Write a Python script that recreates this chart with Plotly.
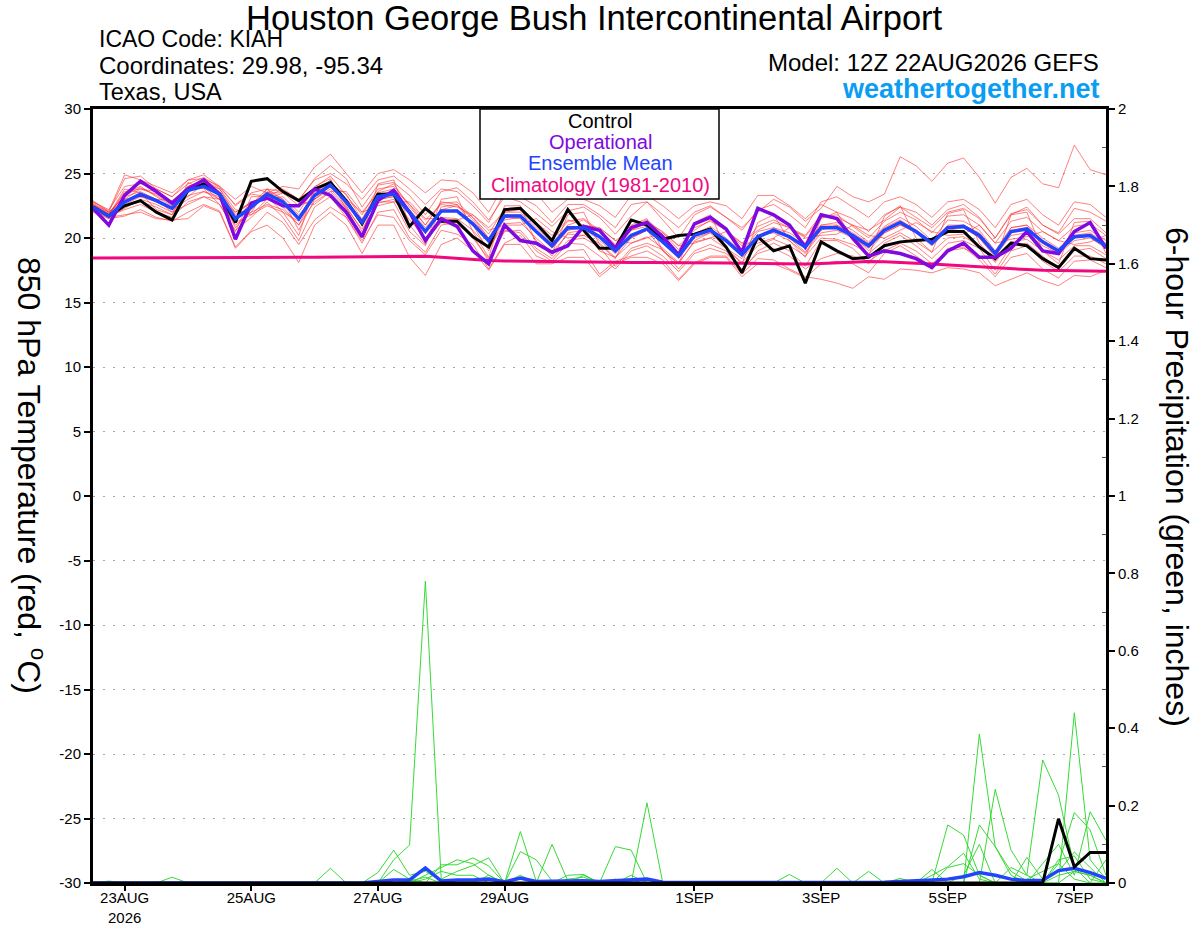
import plotly.graph_objects as go
import pandas as pd

# ---------------- data ----------------
times = pd.date_range("2026-08-22 12:00", periods=65, freq="6h")

tick_dates = ["2026-08-23", "2026-08-25", "2026-08-27", "2026-08-29",
              "2026-09-01", "2026-09-03", "2026-09-05", "2026-09-07"]
tick_labels = ["23AUG<br>2026", "25AUG", "27AUG", "29AUG", "1SEP", "3SEP", "5SEP", "7SEP"]

temp_ticks = [-30, -25, -20, -15, -10, -5, 0, 5, 10, 15, 20, 25, 30]
temp_tick_labels = ["-30", "-25", "-20", "-15", "-10", "-5", "0", "5", "10", "15", "20", "25", "30"]
precip_ticks = [0, 0.2, 0.4, 0.6, 0.8, 1.0, 1.2, 1.4, 1.6, 1.8, 2.0]
precip_tick_labels = ["0", "0.2", "0.4", "0.6", "0.8", "1", "1.2", "1.4", "1.6", "1.8", "2"]

control_t = [22.4, 21.7, 22.5, 22.9, 22.0, 21.4, 23.7, 24.2, 23.4, 21.2, 24.4, 24.6, 23.6,
             22.9, 23.8, 24.3, 22.9, 21.1, 23.4, 23.4, 20.9, 22.3, 21.3, 21.3, 20.1, 19.3,
             22.2, 22.3, 21.1, 19.8, 22.2, 20.6, 19.2, 19.2, 21.4, 21.0, 19.9, 20.2, 20.3,
             20.7, 19.3, 17.3, 20.1, 19.0, 19.4, 16.5, 19.7, 19.0, 18.4, 18.5, 19.4, 19.7,
             19.8, 19.9, 20.5, 20.5, 19.3, 18.4, 19.6, 19.4, 18.4, 17.7, 19.2, 18.4, 18.3]

oper_t = [22.3, 21.0, 23.3, 24.4, 23.6, 22.7, 23.8, 24.5, 23.4, 19.9, 22.7, 23.1, 22.5,
          22.5, 23.8, 23.3, 22.0, 20.1, 22.9, 23.7, 22.0, 19.8, 21.5, 20.9, 19.0, 18.0,
          21.0, 19.8, 19.6, 18.9, 19.4, 20.9, 20.6, 19.2, 20.8, 21.2, 20.1, 18.7, 21.1,
          21.6, 20.7, 18.9, 22.3, 21.8, 21.0, 19.3, 21.8, 21.5, 20.0, 18.6, 19.0, 18.8,
          18.4, 17.7, 19.0, 19.6, 18.5, 18.5, 19.2, 20.5, 19.0, 18.8, 20.5, 21.2, 19.2]

mean_t = [22.4, 21.7, 22.8, 23.4, 22.9, 22.3, 23.7, 24.0, 23.4, 21.5, 22.4, 23.4, 22.8,
          21.5, 23.3, 24.1, 22.8, 21.2, 23.2, 23.4, 22.0, 20.5, 22.1, 22.1, 21.1, 19.8,
          21.7, 21.7, 20.5, 19.4, 20.8, 20.8, 20.1, 19.0, 20.2, 20.7, 19.7, 18.6, 20.2,
          20.6, 19.8, 18.7, 20.1, 20.6, 20.1, 19.3, 20.8, 20.8, 20.2, 19.4, 20.6, 21.2,
          20.5, 19.6, 20.8, 20.9, 20.2, 18.8, 20.5, 20.7, 19.7, 19.0, 20.1, 20.2, 19.4]

clim_t = [18.45, 18.45, 18.45, 18.46, 18.46, 18.47, 18.47, 18.48, 18.48, 18.48, 18.49, 18.49, 18.50,
          18.50, 18.51, 18.52, 18.53, 18.55, 18.57, 18.60, 18.62, 18.58, 18.50, 18.40, 18.30, 18.25,
          18.22, 18.20, 18.18, 18.16, 18.15, 18.14, 18.13, 18.12, 18.11, 18.10, 18.10, 18.10, 18.10,
          18.08, 18.06, 18.04, 18.02, 18.00, 17.98, 17.98, 18.02, 18.08, 18.14, 18.18, 18.16, 18.12,
          18.05, 17.98, 17.90, 17.82, 17.74, 17.66, 17.60, 17.55, 17.50, 17.47, 17.45, 17.43, 17.42]

member_t01 = [22.9, 22.0, 24.6, 24.8, 23.8, 23.2, 24.2, 24.7, 23.9, 22.6, 23.5, 23.8, 23.6,
              22.9, 24.6, 25.6, 24.6, 22.4, 24.1, 24.3, 23.3, 21.8, 23.6, 23.9, 22.8, 21.4,
              23.2, 22.8, 21.9, 20.9, 22.1, 22.4, 21.6, 20.3, 21.7, 22.8, 21.4, 20.0, 21.8,
              22.4, 21.6, 20.8, 22.0, 23.0, 22.4, 21.3, 22.3, 24.0, 23.2, 22.8, 23.4, 26.3,
              25.6, 24.4, 25.8, 26.2, 24.7, 22.7, 24.7, 25.4, 24.2, 23.9, 27.2, 25.3, 24.9]
member_t02 = [22.0, 21.5, 21.7, 22.2, 21.6, 21.3, 22.0, 22.6, 22.1, 19.3, 20.6, 22.0, 21.2,
              19.5, 21.4, 22.4, 21.6, 19.8, 21.8, 21.6, 19.8, 18.7, 20.6, 20.3, 19.5, 17.6,
              19.6, 20.2, 18.6, 18.1, 19.0, 19.1, 17.2, 18.2, 18.6, 19.0, 18.3, 16.8, 18.1,
              18.6, 18.6, 17.2, 18.4, 18.3, 17.6, 17.0, 16.8, 16.5, 16.1, 17.0, 16.8, 17.6,
              17.5, 17.3, 17.7, 17.6, 17.3, 16.3, 16.8, 17.3, 16.7, 16.3, 17.1, 17.0, 17.5]
member_t03 = [22.8, 22.1, 24.9, 24.5, 24.0, 23.5, 24.5, 24.9, 24.0, 23.0, 24.0, 23.5, 24.0,
              23.8, 25.5, 26.5, 25.0, 23.5, 25.0, 25.3, 24.5, 23.5, 24.5, 24.4, 23.5, 22.0,
              24.2, 23.5, 23.5, 22.0, 23.0, 23.0, 22.5, 21.6, 23.3, 23.3, 22.5, 21.5, 22.5,
              22.8, 22.5, 21.5, 23.3, 23.3, 22.5, 21.5, 22.6, 22.0, 21.5, 20.5, 21.8, 22.4,
              21.6, 20.8, 22.0, 22.3, 21.5, 20.0, 21.9, 22.2, 21.0, 20.3, 21.5, 21.5, 20.4]
member_t04 = [22.1, 21.6, 21.8, 22.0, 21.5, 21.4, 21.5, 22.5, 22.0, 19.2, 20.5, 21.0, 20.0,
              18.1, 21.0, 22.0, 21.0, 18.8, 21.0, 21.0, 18.5, 17.1, 19.5, 20.0, 19.0, 17.5,
              19.5, 19.5, 18.0, 18.0, 18.5, 18.5, 17.0, 18.0, 18.5, 18.5, 18.0, 16.7, 18.0,
              18.5, 18.5, 17.0, 18.0, 18.0, 17.5, 16.9, 18.0, 18.2, 18.0, 17.3, 18.8, 19.4,
              18.6, 17.8, 19.2, 19.3, 18.3, 17.0, 18.5, 18.8, 17.6, 16.9, 18.2, 18.3, 17.7]
member_t05 = [22.6, 21.9, 23.3, 23.9, 23.3, 22.6, 24.0, 24.4, 23.6, 22.0, 22.8, 23.0, 23.2,
              22.0, 23.9, 24.8, 23.3, 21.8, 23.8, 24.0, 22.6, 21.0, 22.7, 22.8, 21.6, 20.3,
              22.3, 22.2, 21.2, 19.8, 21.3, 21.5, 20.6, 19.5, 20.9, 21.4, 20.4, 19.1, 20.8,
              21.3, 20.6, 19.4, 20.9, 21.4, 20.8, 20.1, 21.6, 21.8, 20.9, 20.0, 21.3, 22.0,
              21.4, 20.4, 21.7, 21.8, 21.0, 19.6, 21.3, 21.6, 20.5, 19.8, 20.9, 21.1, 20.2]
member_t06 = [22.3, 21.6, 22.3, 23.0, 22.6, 22.0, 23.3, 23.6, 23.0, 21.0, 22.0, 23.8, 22.4,
              21.0, 22.8, 23.6, 22.3, 20.7, 22.7, 23.0, 21.4, 20.0, 21.6, 21.5, 20.6, 19.2,
              21.1, 21.2, 20.0, 18.9, 20.3, 20.2, 19.6, 18.5, 19.6, 20.1, 19.2, 18.1, 19.7,
              20.0, 19.2, 18.1, 19.4, 19.9, 19.4, 18.6, 20.0, 19.9, 19.5, 18.8, 19.8, 20.4,
              19.7, 18.9, 20.0, 20.1, 19.4, 18.1, 19.7, 19.9, 19.0, 18.3, 19.4, 19.4, 18.7]
member_t07 = [22.5, 21.8, 23.8, 23.5, 22.2, 21.8, 24.3, 23.8, 22.6, 20.5, 23.2, 23.2, 22.0,
              20.2, 24.0, 24.6, 22.2, 20.2, 24.2, 24.5, 21.0, 19.5, 23.0, 23.2, 20.5, 18.5,
              22.5, 22.5, 19.6, 18.8, 21.8, 22.0, 19.5, 18.4, 21.0, 21.5, 19.0, 18.0, 21.2,
              21.8, 19.2, 18.0, 21.2, 21.8, 19.8, 18.5, 21.5, 22.0, 19.8, 18.6, 21.7, 22.5,
              20.0, 18.9, 21.9, 22.2, 19.6, 18.2, 21.8, 22.0, 19.0, 18.0, 21.2, 21.3, 18.8]
member_t08 = [22.7, 22.0, 23.0, 23.8, 23.6, 22.8, 23.2, 24.2, 23.8, 22.2, 21.8, 23.0, 23.5,
              22.8, 22.6, 23.6, 23.6, 22.0, 22.5, 22.8, 22.8, 21.5, 21.5, 21.4, 21.8, 20.6,
              21.0, 21.0, 21.5, 20.5, 20.0, 20.2, 20.8, 19.8, 19.6, 20.0, 20.4, 19.4, 19.6,
              20.0, 20.5, 19.6, 19.6, 20.0, 20.8, 20.0, 20.2, 20.3, 21.0, 20.2, 20.0, 20.6,
              21.2, 20.5, 20.2, 20.3, 21.0, 19.6, 19.9, 20.1, 20.5, 19.8, 19.5, 19.7, 20.2]
member_t09 = [22.2, 21.5, 22.5, 22.8, 22.4, 21.8, 23.5, 24.3, 23.5, 21.2, 21.8, 22.5, 22.0,
              21.3, 23.5, 24.5, 22.5, 20.5, 23.0, 23.2, 21.8, 19.8, 21.2, 21.0, 20.2, 18.2,
              20.5, 20.6, 19.2, 18.4, 19.8, 20.0, 19.3, 17.8, 19.2, 19.6, 19.1, 17.6, 19.0,
              19.5, 19.0, 17.4, 19.0, 19.6, 19.0, 17.8, 19.8, 19.8, 19.2, 18.0, 19.6, 20.2,
              19.4, 18.4, 19.6, 19.8, 19.2, 17.5, 19.4, 19.6, 18.6, 17.6, 19.0, 19.2, 18.4]
member_t10 = [22.5, 21.9, 23.0, 23.2, 23.0, 22.9, 23.9, 23.9, 23.0, 22.0, 22.7, 23.5, 23.5,
              22.5, 23.0, 24.0, 23.0, 22.0, 23.5, 23.8, 22.6, 21.4, 22.6, 22.4, 21.8, 20.8,
              22.0, 22.2, 21.2, 20.2, 21.4, 21.0, 20.8, 19.8, 20.6, 21.2, 20.5, 19.4, 20.6,
              21.4, 20.6, 19.6, 20.6, 21.2, 20.8, 20.2, 21.8, 21.6, 21.0, 20.6, 21.4, 22.4,
              22.0, 21.0, 22.2, 22.6, 21.6, 20.0, 21.8, 22.4, 21.0, 20.4, 22.3, 22.0, 21.3]
member_t11 = [22.4, 21.7, 22.6, 23.2, 22.8, 22.2, 23.0, 23.6, 23.2, 20.8, 22.2, 23.6, 23.0,
              20.6, 23.0, 23.8, 22.4, 20.0, 22.8, 22.8, 20.5, 19.4, 22.4, 22.6, 21.0, 19.0,
              21.6, 21.5, 19.8, 18.6, 20.4, 20.6, 19.0, 18.5, 20.0, 20.6, 19.0, 18.0, 19.8,
              20.4, 19.2, 18.4, 19.8, 20.8, 20.0, 18.9, 20.6, 21.0, 20.2, 19.0, 20.4, 21.0,
              20.6, 19.6, 21.0, 21.0, 20.0, 18.5, 20.8, 21.0, 19.6, 18.8, 20.2, 20.4, 19.6]
member_t12 = [22.6, 21.8, 23.5, 24.0, 23.2, 22.5, 24.0, 24.5, 23.8, 21.8, 22.8, 23.0, 22.5,
              21.6, 23.6, 24.2, 22.6, 21.5, 23.6, 24.2, 22.4, 21.0, 22.8, 22.6, 21.4, 20.0,
              22.0, 22.0, 20.8, 19.6, 21.0, 21.4, 20.5, 19.4, 20.6, 20.9, 19.9, 18.8, 20.3,
              20.9, 20.0, 18.9, 20.5, 20.8, 20.4, 19.6, 21.0, 21.2, 20.6, 19.7, 20.9, 21.6,
              20.9, 19.8, 21.4, 21.3, 20.6, 19.0, 20.8, 21.0, 20.0, 19.2, 20.4, 20.6, 19.8]
member_t13 = [22.3, 21.7, 22.2, 22.6, 22.0, 21.6, 22.8, 23.2, 22.6, 20.6, 21.6, 22.8, 21.6,
              19.8, 22.4, 23.2, 21.6, 19.6, 22.0, 22.2, 20.0, 18.9, 21.0, 21.2, 20.0, 18.4,
              20.6, 20.4, 19.0, 18.2, 19.6, 19.5, 18.6, 17.6, 19.0, 19.4, 18.6, 17.4, 18.8,
              19.2, 18.8, 17.6, 18.8, 19.2, 18.6, 17.6, 18.4, 18.8, 18.6, 18.2, 19.0, 19.6,
              19.0, 18.0, 19.0, 19.2, 18.6, 17.2, 19.0, 19.4, 18.2, 17.4, 18.6, 18.6, 18.0]
member_t14 = [22.8, 22.2, 24.0, 24.2, 23.8, 23.2, 24.5, 24.6, 24.0, 22.5, 23.4, 23.2, 23.8,
              23.0, 24.5, 25.0, 24.2, 23.0, 24.5, 24.8, 23.8, 22.6, 23.8, 23.6, 22.5, 21.2,
              23.5, 23.2, 22.5, 21.2, 22.6, 22.6, 21.8, 20.8, 22.6, 22.8, 21.8, 20.8, 22.0,
              22.5, 21.6, 20.6, 22.2, 22.6, 21.8, 20.8, 22.8, 23.2, 22.4, 21.6, 22.8, 23.2,
              22.6, 21.6, 22.8, 23.0, 22.2, 20.8, 22.6, 23.0, 21.8, 21.0, 22.8, 22.6, 21.6]
member_t15 = [22.6, 22.0, 23.2, 23.6, 23.0, 22.0, 22.6, 23.2, 23.0, 21.6, 22.0, 22.6, 22.2,
              21.0, 23.4, 24.2, 23.4, 21.4, 23.0, 23.2, 22.2, 20.8, 22.2, 22.5, 21.6, 20.0,
              21.4, 21.6, 20.6, 19.4, 20.6, 21.0, 20.2, 19.0, 20.0, 20.6, 19.6, 18.4, 20.0,
              20.4, 19.8, 18.6, 20.2, 20.4, 19.8, 18.8, 20.4, 20.6, 20.0, 19.2, 20.4, 21.0,
              20.4, 19.4, 20.6, 20.8, 20.0, 18.6, 20.2, 20.4, 19.4, 18.8, 19.8, 20.0, 19.2]
member_t16 = [22.4, 21.8, 23.6, 23.8, 23.4, 22.8, 24.0, 24.0, 23.4, 21.6, 22.6, 23.8, 23.0,
              21.8, 23.0, 24.0, 22.8, 21.0, 23.4, 23.6, 22.0, 20.4, 22.0, 22.2, 21.0, 19.6,
              21.8, 21.8, 20.4, 19.2, 20.6, 20.8, 19.8, 18.8, 20.2, 20.6, 19.6, 18.5, 20.2,
              20.6, 19.8, 18.8, 20.0, 20.6, 20.2, 19.4, 21.0, 21.0, 20.4, 19.6, 20.8, 21.4,
              20.6, 19.6, 20.8, 21.0, 20.4, 18.9, 20.6, 20.8, 19.8, 19.0, 20.0, 20.2, 19.4]

members_t = [member_t01, member_t02, member_t03, member_t04, member_t05, member_t06,
             member_t07, member_t08, member_t09, member_t10, member_t11, member_t12,
             member_t13, member_t14, member_t15, member_t16]

control_p = [0, 0, 0, 0, 0, 0, 0, 0, 0, 0, 0, 0, 0,
             0, 0, 0, 0, 0, 0, 0, 0, 0, 0, 0, 0, 0,
             0, 0, 0, 0, 0, 0, 0, 0, 0, 0, 0, 0, 0,
             0, 0, 0, 0, 0, 0, 0, 0, 0, 0, 0, 0, 0,
             0, 0, 0, 0, 0, 0, 0, 0, 0, 0.166, 0.042, 0.079, 0.079]

mean_p = [0, 0.001, 0, 0, 0, 0.001, 0, 0, 0, 0, 0, 0, 0,
          0, 0, 0.002, 0, 0, 0.004, 0.008, 0.008, 0.039, 0.005, 0.008, 0.008, 0.010,
          0.003, 0.013, 0.004, 0.005, 0.005, 0.006, 0.004, 0.006, 0.008, 0.010, 0.002, 0.001, 0.001,
          0.001, 0.001, 0.001, 0.001, 0.001, 0.002, 0.001, 0.001, 0.002, 0.001, 0.002, 0.002, 0.004,
          0.005, 0.008, 0.010, 0.016, 0.027, 0.020, 0.010, 0.006, 0.007, 0.032, 0.038, 0.027, 0.012]

member_p01 = [0, 0.005, 0, 0, 0, 0, 0, 0, 0, 0, 0, 0, 0,
              0, 0, 0, 0, 0, 0, 0.06, 0.098, 0.78, 0.01, 0.03, 0.045, 0.065,
              0, 0.02, 0, 0, 0, 0.02, 0, 0, 0, 0, 0, 0, 0,
              0, 0, 0, 0, 0, 0, 0, 0, 0, 0, 0, 0, 0,
              0, 0.02, 0.042, 0.077, 0.01, 0, 0, 0, 0, 0, 0.03, 0.02, 0]
member_p02 = [0, 0, 0, 0, 0, 0.015, 0, 0, 0, 0, 0, 0, 0,
              0, 0, 0, 0, 0, 0, 0.035, 0.01, 0, 0.047, 0.047, 0.065, 0.044,
              0, 0.081, 0.06, 0.005, 0, 0, 0, 0, 0, 0.01, 0, 0, 0,
              0, 0, 0, 0, 0, 0, 0, 0, 0, 0, 0, 0, 0,
              0, 0, 0, 0, 0.15, 0.094, 0.02, 0, 0, 0.05, 0.182, 0.137, 0.02]
member_p03 = [0, 0, 0, 0, 0, 0, 0, 0, 0, 0, 0, 0, 0,
              0, 0, 0.038, 0, 0, 0, 0, 0, 0.02, 0.04, 0.06, 0.05, 0.02,
              0, 0.133, 0.005, 0, 0.02, 0.022, 0, 0.01, 0, 0, 0, 0, 0,
              0, 0, 0, 0, 0, 0, 0, 0, 0, 0, 0, 0, 0,
              0, 0, 0.15, 0.124, 0.02, 0, 0, 0, 0.05, 0.1, 0.02, 0.184, 0.11]
member_p04 = [0, 0, 0, 0, 0, 0, 0, 0, 0, 0, 0, 0, 0,
              0, 0, 0, 0, 0, 0.027, 0.085, 0.02, 0.03, 0.005, 0, 0, 0,
              0, 0, 0, 0.1, 0.005, 0, 0, 0, 0.02, 0, 0, 0, 0,
              0, 0, 0, 0, 0, 0, 0, 0, 0, 0, 0, 0, 0,
              0, 0, 0, 0, 0.385, 0.094, 0.03, 0.005, 0, 0, 0.44, 0.06, 0.01]
member_p05 = [0, 0, 0, 0, 0, 0, 0, 0, 0, 0, 0, 0, 0,
              0, 0, 0, 0, 0, 0, 0, 0.005, 0.015, 0, 0, 0, 0.02,
              0, 0, 0, 0, 0, 0, 0, 0.094, 0.085, 0, 0, 0, 0,
              0, 0, 0, 0, 0, 0, 0, 0, 0.038, 0, 0, 0, 0,
              0, 0.035, 0, 0, 0, 0.242, 0.085, 0.02, 0, 0.02, 0.03, 0.02, 0]
member_p06 = [0, 0, 0, 0, 0, 0, 0, 0, 0, 0, 0, 0, 0,
              0, 0, 0, 0, 0, 0, 0, 0, 0, 0, 0, 0, 0,
              0, 0, 0, 0, 0, 0, 0, 0, 0, 0.207, 0, 0, 0,
              0, 0, 0, 0, 0, 0.022, 0, 0, 0, 0, 0.03, 0, 0,
              0, 0, 0, 0.02, 0.1, 0, 0, 0.066, 0.01, 0.03, 0.08, 0.04, 0]
member_p07 = [0, 0, 0, 0, 0, 0, 0, 0, 0, 0, 0, 0, 0,
              0, 0, 0, 0, 0, 0, 0, 0, 0, 0, 0, 0, 0,
              0, 0, 0, 0, 0, 0, 0, 0, 0, 0, 0, 0, 0,
              0, 0, 0, 0, 0, 0, 0, 0, 0, 0, 0, 0, 0,
              0, 0, 0, 0, 0, 0, 0.04, 0.02, 0.318, 0.227, 0.04, 0, 0.06]
member_p08 = [0, 0, 0, 0, 0, 0, 0, 0, 0, 0, 0, 0, 0,
              0, 0, 0, 0, 0, 0, 0, 0, 0, 0, 0, 0, 0,
              0, 0, 0, 0, 0.01, 0.015, 0, 0, 0, 0, 0, 0, 0,
              0, 0, 0, 0, 0, 0, 0, 0, 0, 0, 0, 0, 0.012,
              0, 0, 0.04, 0.05, 0.02, 0, 0, 0, 0, 0.06, 0.07, 0.01, 0]
member_p09 = [0, 0, 0, 0, 0, 0, 0, 0, 0, 0, 0, 0, 0,
              0, 0, 0, 0, 0, 0, 0, 0, 0.01, 0.03, 0.02, 0.02, 0,
              0, 0.01, 0, 0, 0, 0, 0, 0, 0, 0, 0, 0, 0,
              0, 0, 0, 0, 0, 0, 0, 0, 0, 0, 0, 0, 0,
              0, 0, 0, 0, 0, 0, 0, 0.01, 0.03, 0.05, 0.01, 0, 0]

members_p = [member_p01, member_p02, member_p03, member_p04, member_p05,
             member_p06, member_p07, member_p08, member_p09]

# ---------------- styling ----------------
FONT = "Liberation Sans, Arial, Helvetica, sans-serif"
RED = "rgba(255,45,45,0.6)"
GREEN = "rgba(45,215,45,0.95)"
PURPLE = "#8008E0"
BLUE = "#2244FF"
MAGENTA = "#F0087F"
SITE = "#0A9DF2"

fig = go.Figure()

for m in members_t:
    fig.add_trace(go.Scatter(x=times, y=m, mode="lines", yaxis="y",
                             line=dict(color=RED, width=1), hoverinfo="skip", showlegend=False))
fig.add_trace(go.Scatter(x=times, y=clim_t, mode="lines", yaxis="y",
                         line=dict(color=MAGENTA, width=3), showlegend=False))
fig.add_trace(go.Scatter(x=times, y=control_t, mode="lines", yaxis="y",
                         line=dict(color="black", width=3), showlegend=False))
fig.add_trace(go.Scatter(x=times, y=oper_t, mode="lines", yaxis="y",
                         line=dict(color=PURPLE, width=3.5), showlegend=False))
fig.add_trace(go.Scatter(x=times, y=mean_t, mode="lines", yaxis="y",
                         line=dict(color=BLUE, width=3.5), showlegend=False))

for m in members_p:
    fig.add_trace(go.Scatter(x=times, y=m, mode="lines", yaxis="y2",
                             line=dict(color=GREEN, width=1), hoverinfo="skip", showlegend=False))
fig.add_trace(go.Scatter(x=times, y=mean_p, mode="lines", yaxis="y2",
                         line=dict(color=BLUE, width=3.5), showlegend=False))
fig.add_trace(go.Scatter(x=times, y=control_p, mode="lines", yaxis="y2",
                         line=dict(color="black", width=3), showlegend=False))

L, R, T, B = 93, 94, 109, 44
W, H = 1200, 927
PW, PH = W - L - R, H - T - B


def px(x):
    return (x - L) / PW


def py(y):
    return (H - B - y) / PH


fig.update_layout(
    width=W, height=H,
    margin=dict(l=L, r=R, t=T, b=B, pad=0, autoexpand=False),
    paper_bgcolor="white", plot_bgcolor="white",
    font=dict(family=FONT, color="black", size=15),
    showlegend=False,
    xaxis=dict(type="date", range=[times[0], times[-1]], automargin=False,
               tickvals=tick_dates, ticktext=tick_labels,
               ticks="outside", ticklen=5, tickwidth=1.5, tickcolor="black",
               ticklabelstandoff=-6,
               showgrid=False, zeroline=False,
               showline=True, linewidth=3, linecolor="black", mirror=True,
               tickfont=dict(size=15), tickangle=0),
    yaxis=dict(range=[-30, 30], tickvals=temp_ticks, ticktext=temp_tick_labels,
               automargin=False,
               ticks="outside", ticklen=6, tickwidth=1.5, tickcolor="black",
               showgrid=True, gridcolor="#a8a8a8", gridwidth=1, griddash="2px,8px",
               zeroline=False, showline=True, linewidth=3, linecolor="black",
               tickfont=dict(size=15)),
    yaxis2=dict(range=[0, 2], overlaying="y", side="right", automargin=False,
                tickvals=precip_ticks, ticktext=precip_tick_labels,
                ticks="outside", ticklen=6, tickwidth=1.5, tickcolor="black",
                minor=dict(ticks="inside", dtick=0.2, tick0=0.1, ticklen=4,
                           tickwidth=1, tickcolor="#555555", showgrid=False),
                showgrid=False, zeroline=False, showline=True, linewidth=3,
                linecolor="black", tickfont=dict(size=15)),
)

ann = []
ann.append(dict(text="Houston George Bush Intercontinental Airport", x=px(594), y=py(18),
                xanchor="center", yanchor="middle", font=dict(size=34.5)))
ann.append(dict(text="ICAO Code: KIAH", x=px(97), y=py(39),
                xanchor="left", yanchor="middle", font=dict(size=23)))
ann.append(dict(text="Coordinates: 29.98, -95.34", x=px(97), y=py(66),
                xanchor="left", yanchor="middle", font=dict(size=24)))
ann.append(dict(text="Texas, USA", x=px(97), y=py(92),
                xanchor="left", yanchor="middle", font=dict(size=23.5)))
ann.append(dict(text="Model: 12Z 22AUG2026 GEFS", x=px(1101), y=py(63),
                xanchor="right", yanchor="middle", font=dict(size=24)))
ann.append(dict(text="<b>weathertogether.net</b>", x=px(1102), y=py(89),
                xanchor="right", yanchor="middle", font=dict(size=27, color=SITE)))

ann.append(dict(text="Control", x=px(600), y=py(121), xanchor="center", yanchor="middle",
                font=dict(size=20, color="black")))
ann.append(dict(text="Operational", x=px(600), y=py(142), xanchor="center", yanchor="middle",
                font=dict(size=20, color=PURPLE)))
ann.append(dict(text="Ensemble Mean", x=px(600), y=py(163), xanchor="center", yanchor="middle",
                font=dict(size=20, color=BLUE)))
ann.append(dict(text="Climatology (1981-2010)", x=px(600), y=py(185), xanchor="center",
                yanchor="middle", font=dict(size=20, color=MAGENTA)))

ann.append(dict(text="850 hPa Temperature (red, <sup>o</sup>C)", x=px(31), y=py(475),
                xanchor="center", yanchor="middle", textangle=90, font=dict(size=32)))
ann.append(dict(text="6-hour Precipitation (green, inches)", x=px(1177), y=py(477),
                xanchor="center", yanchor="middle", textangle=90, font=dict(size=32)))

for a in ann:
    a.update(xref="paper", yref="paper", showarrow=False)
fig.update_layout(annotations=ann)

fig.add_shape(type="rect", xref="paper", yref="paper",
              x0=px(480), x1=px(719), y0=py(199), y1=py(109),
              line=dict(color="black", width=1.5), fillcolor="white", layer="above")

fig.write_html("out.html", config={"displayModeBar": False},
               post_script="document.body.style.margin='0';")
